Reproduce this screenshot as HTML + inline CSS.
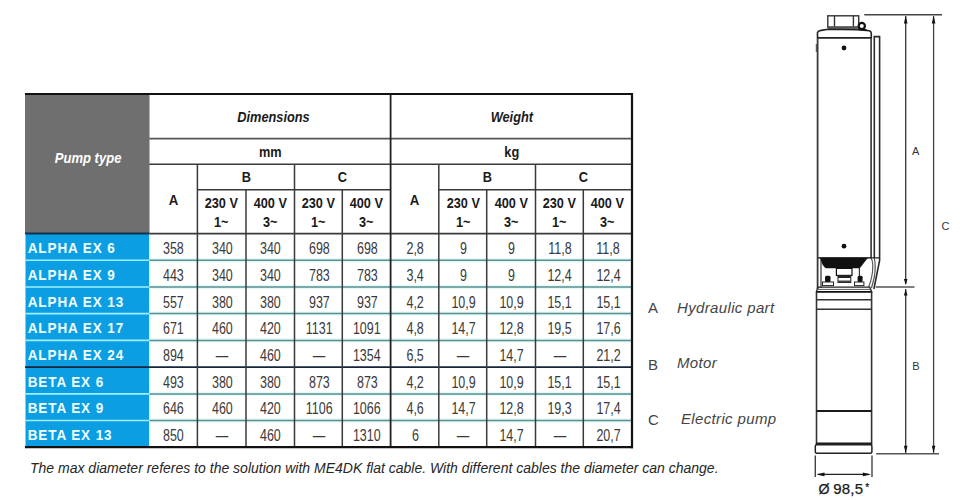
<!DOCTYPE html>
<html><head><meta charset="utf-8"><style>
html,body{margin:0;padding:0;background:#fff;}
body{width:963px;height:500px;position:relative;overflow:hidden;font-family:"Liberation Sans",sans-serif;}
.t{position:absolute;text-align:center;white-space:nowrap;}
.t span{display:inline-block;}
.pt{color:#fff;font-weight:bold;font-style:italic;font-size:14.5px;}
.pt span{transform:scaleX(0.9);position:relative;top:-6px;left:1px;}
.hd{color:#1a1a1a;font-weight:bold;font-style:italic;font-size:15px;}
.hd span{transform:scaleX(0.852);}
.un,.bc{color:#1a1a1a;font-weight:bold;font-size:15px;}
.un span,.bc span{transform:scaleX(0.85);}
.ba{font-size:15.5px;}
.vt{color:#1a1a1a;font-weight:bold;font-size:15.5px;line-height:19px;padding-top:3px;}
.vt span{transform:scaleX(0.82);}
.nm{color:#f0ffff;font-weight:bold;font-size:15px;text-align:left;}
.nm span{padding-left:3px;transform:scaleX(0.9);transform-origin:0 50%;letter-spacing:1px;position:relative;top:0.5px;}
.dt{color:#3a3a3a;font-size:16px;}
.dt span{transform:scaleX(0.78);position:relative;top:1.5px;}
.note{position:absolute;left:30px;top:460px;font-size:14px;font-style:italic;color:#262626;white-space:nowrap;}
.lg{position:absolute;font-size:15px;color:#444;white-space:nowrap;}
.lg i{font-style:italic;letter-spacing:0.35px;}
</style></head><body>
<svg style="position:absolute;left:0;top:0" width="963" height="500"><rect x="25" y="93" width="124.5" height="140.6" fill="#706f70"/><rect x="25.5" y="233.6" width="123.5" height="213.6" fill="#0b9ee2"/><rect x="149" y="234.5" width="1.5" height="212" fill="#d8f6ff"/><rect x="149.5" y="258.0" width="482.5" height="4.6" fill="#e8f9f9"/><line x1="25.5" y1="260.3" x2="149.3" y2="260.3" stroke="#9ff0ff" stroke-width="1.6"/><line x1="149.3" y1="260.3" x2="632" y2="260.3" stroke="#56918f" stroke-width="1.5"/><rect x="149.5" y="284.7" width="482.5" height="4.6" fill="#e8f9f9"/><line x1="25.5" y1="287.0" x2="149.3" y2="287.0" stroke="#9ff0ff" stroke-width="1.6"/><line x1="149.3" y1="287.0" x2="632" y2="287.0" stroke="#56918f" stroke-width="1.5"/><rect x="149.5" y="311.3" width="482.5" height="4.6" fill="#e8f9f9"/><line x1="25.5" y1="313.6" x2="149.3" y2="313.6" stroke="#9ff0ff" stroke-width="1.6"/><line x1="149.3" y1="313.6" x2="632" y2="313.6" stroke="#56918f" stroke-width="1.5"/><rect x="149.5" y="338.1" width="482.5" height="4.6" fill="#e8f9f9"/><line x1="25.5" y1="340.4" x2="149.3" y2="340.4" stroke="#9ff0ff" stroke-width="1.6"/><line x1="149.3" y1="340.4" x2="632" y2="340.4" stroke="#56918f" stroke-width="1.5"/><rect x="149.5" y="391.6" width="482.5" height="4.6" fill="#e8f9f9"/><line x1="25.5" y1="393.9" x2="149.3" y2="393.9" stroke="#9ff0ff" stroke-width="1.6"/><line x1="149.3" y1="393.9" x2="632" y2="393.9" stroke="#56918f" stroke-width="1.5"/><rect x="149.5" y="418.2" width="482.5" height="4.6" fill="#e8f9f9"/><line x1="25.5" y1="420.5" x2="149.3" y2="420.5" stroke="#9ff0ff" stroke-width="1.6"/><line x1="149.3" y1="420.5" x2="632" y2="420.5" stroke="#56918f" stroke-width="1.5"/><line x1="25" y1="367.2" x2="632" y2="367.2" stroke="#15253a" stroke-width="1.8"/><line x1="149.3" y1="138.6" x2="632" y2="138.6" stroke="#555" stroke-width="1.8"/><line x1="149.3" y1="164.2" x2="632" y2="164.2" stroke="#3a3a3a" stroke-width="1.4"/><line x1="197.4" y1="189.8" x2="390.6" y2="189.8" stroke="#3a3a3a" stroke-width="1.4"/><line x1="438.8" y1="189.8" x2="632" y2="189.8" stroke="#3a3a3a" stroke-width="1.4"/><line x1="25" y1="233.6" x2="149.3" y2="233.6" stroke="#15304a" stroke-width="2"/><line x1="149.3" y1="233.6" x2="632" y2="233.6" stroke="#3a3a3a" stroke-width="1.6"/><line x1="197.4" y1="164.2" x2="197.4" y2="447.2" stroke="#3a3a3a" stroke-width="1.5"/><line x1="246" y1="189.8" x2="246" y2="447.2" stroke="#3a3a3a" stroke-width="1.5"/><line x1="294.5" y1="164.2" x2="294.5" y2="447.2" stroke="#3a3a3a" stroke-width="1.5"/><line x1="342.3" y1="189.8" x2="342.3" y2="447.2" stroke="#3a3a3a" stroke-width="1.5"/><line x1="438.8" y1="164.2" x2="438.8" y2="447.2" stroke="#3a3a3a" stroke-width="1.5"/><line x1="486.7" y1="189.8" x2="486.7" y2="447.2" stroke="#3a3a3a" stroke-width="1.5"/><line x1="535.5" y1="164.2" x2="535.5" y2="447.2" stroke="#3a3a3a" stroke-width="1.5"/><line x1="583.3" y1="189.8" x2="583.3" y2="447.2" stroke="#3a3a3a" stroke-width="1.5"/><line x1="390.6" y1="94" x2="390.6" y2="447.2" stroke="#222" stroke-width="1.8"/><line x1="25" y1="94" x2="633" y2="94" stroke="#111" stroke-width="2.2"/><line x1="25" y1="447.2" x2="633" y2="447.2" stroke="#111" stroke-width="2.2"/><line x1="632" y1="93" x2="632" y2="448.3" stroke="#111" stroke-width="2.2"/></svg>
<div class="t pt" style="left:25px;top:95px;width:125px;height:138px;line-height:138px;"><span>Pump type</span></div><div class="t hd" style="left:154px;top:95px;width:240px;height:43px;line-height:43px;"><span>Dimensions</span></div><div class="t hd" style="left:391px;top:95px;width:242px;height:43px;line-height:43px;"><span>Weight</span></div><div class="t un" style="left:150px;top:139px;width:240px;height:26px;line-height:26px;"><span>mm</span></div><div class="t un" style="left:391px;top:139px;width:242px;height:26px;line-height:26px;"><span>kg</span></div><div class="t bc" style="left:198px;top:164px;width:96px;height:26px;line-height:26px;"><span>B</span></div><div class="t bc" style="left:294px;top:164px;width:96px;height:26px;line-height:26px;"><span>C</span></div><div class="t bc" style="left:439px;top:164px;width:96px;height:26px;line-height:26px;"><span>B</span></div><div class="t bc" style="left:535px;top:164px;width:97px;height:26px;line-height:26px;"><span>C</span></div><div class="t bc ba" style="left:150px;top:165px;width:48px;height:69px;line-height:69px;"><span>A</span></div><div class="t bc ba" style="left:390px;top:165px;width:49px;height:69px;line-height:69px;"><span>A</span></div><div class="t vt" style="left:197px;top:190px;width:49px;height:43px;"><span>230 V<br>1~</span></div><div class="t vt" style="left:246px;top:190px;width:48px;height:43px;"><span>400 V<br>3~</span></div><div class="t vt" style="left:294px;top:190px;width:48px;height:43px;"><span>230 V<br>1~</span></div><div class="t vt" style="left:342px;top:190px;width:49px;height:43px;"><span>400 V<br>3~</span></div><div class="t vt" style="left:439px;top:190px;width:48px;height:43px;"><span>230 V<br>1~</span></div><div class="t vt" style="left:487px;top:190px;width:49px;height:43px;"><span>400 V<br>3~</span></div><div class="t vt" style="left:536px;top:190px;width:47px;height:43px;"><span>230 V<br>1~</span></div><div class="t vt" style="left:583px;top:190px;width:49px;height:43px;"><span>400 V<br>3~</span></div><div class="t nm" style="left:25px;top:234px;width:125px;height:26px;line-height:26px;"><span>ALPHA EX 6</span></div><div class="t dt" style="left:149.8px;top:234px;width:48.1px;height:26px;line-height:26px;"><span>358</span></div><div class="t dt" style="left:197.9px;top:234px;width:48.6px;height:26px;line-height:26px;"><span>340</span></div><div class="t dt" style="left:246.5px;top:234px;width:48.5px;height:26px;line-height:26px;"><span>340</span></div><div class="t dt" style="left:295.0px;top:234px;width:47.8px;height:26px;line-height:26px;"><span>698</span></div><div class="t dt" style="left:342.8px;top:234px;width:48.3px;height:26px;line-height:26px;"><span>698</span></div><div class="t dt" style="left:391.1px;top:234px;width:48.2px;height:26px;line-height:26px;"><span>2,8</span></div><div class="t dt" style="left:439.3px;top:234px;width:47.9px;height:26px;line-height:26px;"><span>9</span></div><div class="t dt" style="left:487.2px;top:234px;width:48.8px;height:26px;line-height:26px;"><span>9</span></div><div class="t dt" style="left:536.0px;top:234px;width:47.8px;height:26px;line-height:26px;"><span>11,8</span></div><div class="t dt" style="left:583.8px;top:234px;width:48.7px;height:26px;line-height:26px;"><span>11,8</span></div><div class="t nm" style="left:25px;top:260px;width:125px;height:27px;line-height:27px;"><span>ALPHA EX 9</span></div><div class="t dt" style="left:149.8px;top:260px;width:48.1px;height:27px;line-height:27px;"><span>443</span></div><div class="t dt" style="left:197.9px;top:260px;width:48.6px;height:27px;line-height:27px;"><span>340</span></div><div class="t dt" style="left:246.5px;top:260px;width:48.5px;height:27px;line-height:27px;"><span>340</span></div><div class="t dt" style="left:295.0px;top:260px;width:47.8px;height:27px;line-height:27px;"><span>783</span></div><div class="t dt" style="left:342.8px;top:260px;width:48.3px;height:27px;line-height:27px;"><span>783</span></div><div class="t dt" style="left:391.1px;top:260px;width:48.2px;height:27px;line-height:27px;"><span>3,4</span></div><div class="t dt" style="left:439.3px;top:260px;width:47.9px;height:27px;line-height:27px;"><span>9</span></div><div class="t dt" style="left:487.2px;top:260px;width:48.8px;height:27px;line-height:27px;"><span>9</span></div><div class="t dt" style="left:536.0px;top:260px;width:47.8px;height:27px;line-height:27px;"><span>12,4</span></div><div class="t dt" style="left:583.8px;top:260px;width:48.7px;height:27px;line-height:27px;"><span>12,4</span></div><div class="t nm" style="left:25px;top:287px;width:125px;height:27px;line-height:27px;"><span>ALPHA EX 13</span></div><div class="t dt" style="left:149.8px;top:287px;width:48.1px;height:27px;line-height:27px;"><span>557</span></div><div class="t dt" style="left:197.9px;top:287px;width:48.6px;height:27px;line-height:27px;"><span>380</span></div><div class="t dt" style="left:246.5px;top:287px;width:48.5px;height:27px;line-height:27px;"><span>380</span></div><div class="t dt" style="left:295.0px;top:287px;width:47.8px;height:27px;line-height:27px;"><span>937</span></div><div class="t dt" style="left:342.8px;top:287px;width:48.3px;height:27px;line-height:27px;"><span>937</span></div><div class="t dt" style="left:391.1px;top:287px;width:48.2px;height:27px;line-height:27px;"><span>4,2</span></div><div class="t dt" style="left:439.3px;top:287px;width:47.9px;height:27px;line-height:27px;"><span>10,9</span></div><div class="t dt" style="left:487.2px;top:287px;width:48.8px;height:27px;line-height:27px;"><span>10,9</span></div><div class="t dt" style="left:536.0px;top:287px;width:47.8px;height:27px;line-height:27px;"><span>15,1</span></div><div class="t dt" style="left:583.8px;top:287px;width:48.7px;height:27px;line-height:27px;"><span>15,1</span></div><div class="t nm" style="left:25px;top:314px;width:125px;height:26px;line-height:26px;"><span>ALPHA EX 17</span></div><div class="t dt" style="left:149.8px;top:314px;width:48.1px;height:26px;line-height:26px;"><span>671</span></div><div class="t dt" style="left:197.9px;top:314px;width:48.6px;height:26px;line-height:26px;"><span>460</span></div><div class="t dt" style="left:246.5px;top:314px;width:48.5px;height:26px;line-height:26px;"><span>420</span></div><div class="t dt" style="left:295.0px;top:314px;width:47.8px;height:26px;line-height:26px;"><span>1131</span></div><div class="t dt" style="left:342.8px;top:314px;width:48.3px;height:26px;line-height:26px;"><span>1091</span></div><div class="t dt" style="left:391.1px;top:314px;width:48.2px;height:26px;line-height:26px;"><span>4,8</span></div><div class="t dt" style="left:439.3px;top:314px;width:47.9px;height:26px;line-height:26px;"><span>14,7</span></div><div class="t dt" style="left:487.2px;top:314px;width:48.8px;height:26px;line-height:26px;"><span>12,8</span></div><div class="t dt" style="left:536.0px;top:314px;width:47.8px;height:26px;line-height:26px;"><span>19,5</span></div><div class="t dt" style="left:583.8px;top:314px;width:48.7px;height:26px;line-height:26px;"><span>17,6</span></div><div class="t nm" style="left:25px;top:340px;width:125px;height:27px;line-height:27px;"><span>ALPHA EX 24</span></div><div class="t dt" style="left:149.8px;top:340px;width:48.1px;height:27px;line-height:27px;"><span>894</span></div><div class="t dt" style="left:197.9px;top:340px;width:48.6px;height:27px;line-height:27px;"><span>—</span></div><div class="t dt" style="left:246.5px;top:340px;width:48.5px;height:27px;line-height:27px;"><span>460</span></div><div class="t dt" style="left:295.0px;top:340px;width:47.8px;height:27px;line-height:27px;"><span>—</span></div><div class="t dt" style="left:342.8px;top:340px;width:48.3px;height:27px;line-height:27px;"><span>1354</span></div><div class="t dt" style="left:391.1px;top:340px;width:48.2px;height:27px;line-height:27px;"><span>6,5</span></div><div class="t dt" style="left:439.3px;top:340px;width:47.9px;height:27px;line-height:27px;"><span>—</span></div><div class="t dt" style="left:487.2px;top:340px;width:48.8px;height:27px;line-height:27px;"><span>14,7</span></div><div class="t dt" style="left:536.0px;top:340px;width:47.8px;height:27px;line-height:27px;"><span>—</span></div><div class="t dt" style="left:583.8px;top:340px;width:48.7px;height:27px;line-height:27px;"><span>21,2</span></div><div class="t nm" style="left:25px;top:367px;width:125px;height:27px;line-height:27px;"><span>BETA EX 6</span></div><div class="t dt" style="left:149.8px;top:367px;width:48.1px;height:27px;line-height:27px;"><span>493</span></div><div class="t dt" style="left:197.9px;top:367px;width:48.6px;height:27px;line-height:27px;"><span>380</span></div><div class="t dt" style="left:246.5px;top:367px;width:48.5px;height:27px;line-height:27px;"><span>380</span></div><div class="t dt" style="left:295.0px;top:367px;width:47.8px;height:27px;line-height:27px;"><span>873</span></div><div class="t dt" style="left:342.8px;top:367px;width:48.3px;height:27px;line-height:27px;"><span>873</span></div><div class="t dt" style="left:391.1px;top:367px;width:48.2px;height:27px;line-height:27px;"><span>4,2</span></div><div class="t dt" style="left:439.3px;top:367px;width:47.9px;height:27px;line-height:27px;"><span>10,9</span></div><div class="t dt" style="left:487.2px;top:367px;width:48.8px;height:27px;line-height:27px;"><span>10,9</span></div><div class="t dt" style="left:536.0px;top:367px;width:47.8px;height:27px;line-height:27px;"><span>15,1</span></div><div class="t dt" style="left:583.8px;top:367px;width:48.7px;height:27px;line-height:27px;"><span>15,1</span></div><div class="t nm" style="left:25px;top:394px;width:125px;height:26px;line-height:26px;"><span>BETA EX 9</span></div><div class="t dt" style="left:149.8px;top:394px;width:48.1px;height:26px;line-height:26px;"><span>646</span></div><div class="t dt" style="left:197.9px;top:394px;width:48.6px;height:26px;line-height:26px;"><span>460</span></div><div class="t dt" style="left:246.5px;top:394px;width:48.5px;height:26px;line-height:26px;"><span>420</span></div><div class="t dt" style="left:295.0px;top:394px;width:47.8px;height:26px;line-height:26px;"><span>1106</span></div><div class="t dt" style="left:342.8px;top:394px;width:48.3px;height:26px;line-height:26px;"><span>1066</span></div><div class="t dt" style="left:391.1px;top:394px;width:48.2px;height:26px;line-height:26px;"><span>4,6</span></div><div class="t dt" style="left:439.3px;top:394px;width:47.9px;height:26px;line-height:26px;"><span>14,7</span></div><div class="t dt" style="left:487.2px;top:394px;width:48.8px;height:26px;line-height:26px;"><span>12,8</span></div><div class="t dt" style="left:536.0px;top:394px;width:47.8px;height:26px;line-height:26px;"><span>19,3</span></div><div class="t dt" style="left:583.8px;top:394px;width:48.7px;height:26px;line-height:26px;"><span>17,4</span></div><div class="t nm" style="left:25px;top:420px;width:125px;height:27px;line-height:27px;"><span>BETA EX 13</span></div><div class="t dt" style="left:149.8px;top:420px;width:48.1px;height:27px;line-height:27px;"><span>850</span></div><div class="t dt" style="left:197.9px;top:420px;width:48.6px;height:27px;line-height:27px;"><span>—</span></div><div class="t dt" style="left:246.5px;top:420px;width:48.5px;height:27px;line-height:27px;"><span>460</span></div><div class="t dt" style="left:295.0px;top:420px;width:47.8px;height:27px;line-height:27px;"><span>—</span></div><div class="t dt" style="left:342.8px;top:420px;width:48.3px;height:27px;line-height:27px;"><span>1310</span></div><div class="t dt" style="left:391.1px;top:420px;width:48.2px;height:27px;line-height:27px;"><span>6</span></div><div class="t dt" style="left:439.3px;top:420px;width:47.9px;height:27px;line-height:27px;"><span>—</span></div><div class="t dt" style="left:487.2px;top:420px;width:48.8px;height:27px;line-height:27px;"><span>14,7</span></div><div class="t dt" style="left:536.0px;top:420px;width:47.8px;height:27px;line-height:27px;"><span>—</span></div><div class="t dt" style="left:583.8px;top:420px;width:48.7px;height:27px;line-height:27px;"><span>20,7</span></div>
<div class="note">The max diameter referes to the solution with ME4DK flat cable. With different cables the diameter can change.</div>
<div class="lg" style="left:648px;top:299px;">A</div><div class="lg" style="left:677px;top:299px;"><i>Hydraulic part</i></div>
<div class="lg" style="left:648px;top:356px;">B</div><div class="lg" style="left:677px;top:354px;"><i>Motor</i></div>
<div class="lg" style="left:648px;top:411px;">C</div><div class="lg" style="left:681px;top:410px;"><i>Electric pump</i></div>
<svg style="position:absolute;left:0;top:0" width="963" height="500" viewBox="0 0 963 500">
<g fill="none" stroke="#333" stroke-width="1.4">
<!-- cap -->
<rect x="827.8" y="15.8" width="30.9" height="11.5"/>
<line x1="834.5" y1="15.8" x2="834.5" y2="27.3"/>
<line x1="853.4" y1="15.8" x2="853.4" y2="27.3"/>
<rect x="828" y="26.3" width="31" height="2.6" fill="#555" stroke="none"/>
<circle cx="861.8" cy="25.9" r="3.1" stroke="#111" stroke-width="2.2" fill="#fff"/>
<!-- shoulder -->
<path d="M817.5 38 L817.5 32.5 Q818 30.8 821 30.4 L828 29.3 L858 29.8 L869.3 30.8 Q871.3 31.5 871.3 33.5 L871.3 38" stroke="#222" stroke-width="1.6"/>
<path d="M858.5 28.5 L865 28.5 L868.5 30.8 L858.5 30.2 Z" fill="#111" stroke="none"/>
<line x1="817.5" y1="37.8" x2="871.3" y2="37.8" stroke="#222" stroke-width="1.8"/>
<!-- body upper -->
<line x1="816.3" y1="44" x2="816.3" y2="52" stroke="#444" stroke-width="1"/>
<line x1="817.6" y1="38" x2="817.6" y2="289" stroke-width="1.8" stroke="#3a3a3a"/>
<line x1="871.1" y1="38" x2="871.1" y2="258.5" stroke-width="1.6" stroke="#333"/>
<line x1="821" y1="258" x2="821" y2="288" stroke-width="1.2"/>
<!-- cable guard -->
<path d="M874.3 258 L874.3 36.6 L879.6 36.6 L879.6 260.5 L873.9 289" stroke="#2a2a2a" stroke-width="1.6"/>
<path d="M871.1 258 Q873.5 262 872.5 272 Q871 282 868.5 287" stroke-width="1.2" stroke="#555"/>
<path d="M874.3 258 Q876 266 874.5 276 Q873 283 871.5 288" stroke-width="1.2" stroke="#555"/>
<line x1="817.6" y1="257.8" x2="879.6" y2="257.8" stroke="#222" stroke-width="1.3"/>
<!-- hydraulic internals -->
<rect x="836.4" y="268.4" width="15.6" height="7" fill="#fff" stroke="#111" stroke-width="1.2"/>
<rect x="838" y="275.5" width="12.8" height="7" fill="#fff" stroke="#222" stroke-width="1"/>
<rect x="838" y="276" width="12.8" height="2" fill="#222" stroke="none"/>
<rect x="838" y="280.5" width="12.8" height="1.8" fill="#444" stroke="none"/>
<rect x="822.5" y="282" width="11" height="3.6" fill="#fff" stroke="#222" stroke-width="1"/>
<rect x="854.5" y="282" width="9.4" height="3.6" fill="#fff" stroke="#222" stroke-width="1"/>
<path d="M866.6 258.6 L861 265.8 L859.4 268 L859.4 276" stroke="#333" stroke-width="1.2"/>
<!-- dims -->
<line x1="864.3" y1="14.8" x2="942" y2="14.8" stroke="#444" stroke-width="1.5"/>
<line x1="905.7" y1="16" x2="905.7" y2="284" stroke="#333" stroke-width="1.3"/>
<line x1="933.6" y1="16" x2="933.6" y2="453" stroke="#444" stroke-width="1.3"/>
<line x1="875.7" y1="287" x2="914.5" y2="287" stroke="#555" stroke-width="1.5"/>
<line x1="905.7" y1="289" x2="905.7" y2="453" stroke="#333" stroke-width="1.3"/>
<line x1="876.2" y1="453.7" x2="939" y2="453.7" stroke="#555" stroke-width="1.6"/>
<!-- motor -->
<path d="M816.3 292.5 L817.8 287.2 L869.8 287.2 L872 292.5" stroke="#222" stroke-width="1.3"/>
<line x1="817" y1="289.4" x2="870.5" y2="289.4" stroke="#555" stroke-width="1"/>
<line x1="816.3" y1="291.8" x2="872" y2="291.8" stroke="#111" stroke-width="1.8"/>
<line x1="816.3" y1="299.8" x2="872" y2="299.8" stroke="#333" stroke-width="1.6"/>
<line x1="816.3" y1="309.3" x2="872" y2="309.3" stroke="#333" stroke-width="1.6"/>
<line x1="816.5" y1="291.5" x2="816.5" y2="445" stroke="#333" stroke-width="1.6"/>
<line x1="871.6" y1="291.5" x2="871.6" y2="445" stroke="#333" stroke-width="1.6"/>
<line x1="816.5" y1="411" x2="871.6" y2="411" stroke="#1a1a1a" stroke-width="2"/>
<line x1="816.5" y1="443.5" x2="871.6" y2="443.5" stroke="#1a1a1a" stroke-width="2"/>
<rect x="815.3" y="444.8" width="56.6" height="8.4" rx="1.5" stroke="#222" stroke-width="1.5"/>
<!-- diam -->
<line x1="815.3" y1="455.5" x2="815.3" y2="477" stroke="#444" stroke-width="1.4"/>
<line x1="872" y1="455.5" x2="872" y2="477" stroke="#444" stroke-width="1.4"/>
<line x1="818" y1="474.4" x2="869" y2="474.4" stroke="#222" stroke-width="1.4"/>
</g>
<g fill="#111">
<circle cx="844" cy="48" r="2.4"/>
<circle cx="844" cy="246.2" r="2.4"/>
<path d="M818.3 257.5 L871 257.5 L866.6 258.8 L861 265.8 L859 268.3 L826 268.3 Q822 266 820.5 258.5 Z"/>
<rect x="825" y="275.7" width="5.5" height="6.3" rx="1.5"/>
<rect x="857.6" y="275.7" width="5" height="6.3" rx="1.5"/>
<path d="M905.7 15.8 L903.9 23.5 L907.5 23.5 Z"/>
<path d="M933.6 15.8 L931.8 23.5 L935.4 23.5 Z"/>
<path d="M905.7 285 L903.9 279 L907.5 279 Z"/>
<path d="M905.7 289.2 L903.9 295.4 L907.5 295.4 Z"/>
<path d="M905.7 453 L903.9 445.8 L907.5 445.8 Z"/>
<path d="M933.6 453 L931.8 445.8 L935.4 445.8 Z"/>
<path d="M816.3 474.4 L824.5 472.6 L824.5 476.2 Z"/>
<path d="M871 474.4 L862.8 472.6 L862.8 476.2 Z"/>
</g>
<g font-family="Liberation Sans" font-size="11" fill="#333">
<text x="912" y="155">A</text>
<text x="941.5" y="230.3">C</text>
<text x="912.3" y="369.8">B</text>
</g>
<g font-family="Liberation Sans" fill="#1a1a1a" stroke="#1a1a1a" stroke-width="0.25"><text x="818.6" y="493.6" font-size="14.2">Ø</text><text x="833.2" y="493.6" font-size="15" letter-spacing="0.2">98,5</text><text x="865.2" y="490.5" font-size="10">*</text></g>
</svg>

</body></html>
